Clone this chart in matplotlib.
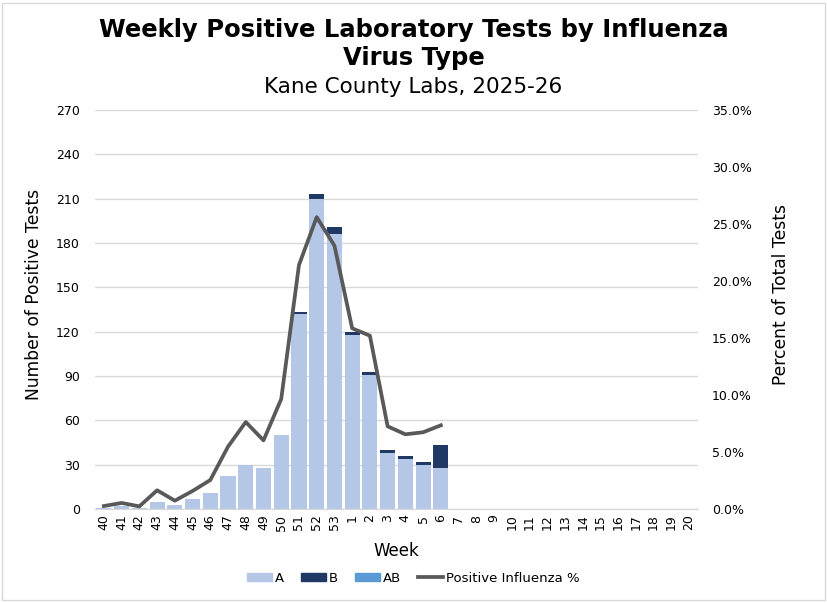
import matplotlib
matplotlib.use("Agg")
import matplotlib.pyplot as plt
import numpy as np
from matplotlib.ticker import FuncFormatter, MultipleLocator
from matplotlib.patches import Rectangle, Patch
from matplotlib.lines import Line2D

weeks = ["40", "41", "42", "43", "44", "45", "46", "47", "48", "49", "50", "51", "52", "53",
         "1", "2", "3", "4", "5", "6", "7", "8", "9", "10", "11", "12", "13", "14", "15",
         "16", "17", "18", "19", "20"]
flu_a = [1, 2, 1, 5, 3, 7, 11, 22, 30, 28, 50, 132, 210, 186, 118, 91, 38, 34, 30, 28]
flu_b = [0, 0, 0, 0, 0, 0, 0, 0, 0, 0, 0, 1, 3, 5, 2, 2, 2, 2, 2, 15]
flu_ab = [0, 0, 0, 0, 0, 0, 0, 0, 0, 0, 0, 0, 0, 0, 0, 0, 0, 0, 0, 0]
pct_pos = [0.26, 0.53, 0.23, 1.64, 0.73, 1.58, 2.54, 5.47, 7.63, 6.02, 9.65, 21.4, 25.6, 23.1,
           15.85, 15.2, 7.25, 6.55, 6.73, 7.34]

C_A = "#B4C7E7"
C_B = "#203864"
C_AB = "#5B9BD5"
C_LINE = "#595959"
GRID = "#D9D9D9"
TXT = "#000000"

plt.rcParams['font.family'] = ['DejaVu Sans']

fig = plt.figure(figsize=(8.27, 6.03), dpi=100)
ax = fig.add_axes([0.1149, 0.1559, 0.7291, 0.6617])
ax2 = ax.twinx()

n = len(flu_a)
x = np.arange(n)
a = np.array(flu_a, dtype=float)
b = np.array(flu_b, dtype=float)
ab = np.array(flu_ab, dtype=float)
w = 0.85
ax.bar(x, a, width=w, color=C_A, zorder=2)
ax.bar(x, b, width=w, bottom=a, color=C_B, zorder=2)
ax.bar(x, ab, width=w, bottom=a + b, color=C_AB, zorder=2)

ax2.plot(x, np.array(pct_pos) / 100.0, color=C_LINE, lw=2.7, zorder=3)

ax.set_xlim(-0.5, len(weeks) - 0.5)
ax.set_xticks(np.arange(len(weeks)))
ax.set_xticklabels(weeks, rotation=90, fontsize=9, color=TXT)
ax.set_ylim(0, 270)
ax.yaxis.set_major_locator(MultipleLocator(30))
ax2.set_ylim(0, 0.35)
ax2.yaxis.set_major_locator(MultipleLocator(0.05))
ax2.yaxis.set_major_formatter(FuncFormatter(lambda v, p: f"{v*100:.1f}%"))

ax.grid(axis='y', color=GRID, lw=1, zorder=0)
ax.set_axisbelow(True)
for a_ in (ax, ax2):
    for s in ("left", "right", "top"):
        a_.spines[s].set_visible(False)
    a_.spines["bottom"].set_color(GRID)
    a_.tick_params(axis='both', length=0, labelsize=9, colors=TXT)
ax.tick_params(axis='y', pad=11)
ax2.tick_params(axis='y', pad=10)
ax.tick_params(axis='x', pad=4)

ax.set_ylabel("Number of Positive Tests", fontsize=12.3, color=TXT)
ax2.set_ylabel("Percent of Total Tests", fontsize=12.3, color=TXT)
ax.yaxis.set_label_coords(-0.086, 0.537)
ax2.yaxis.set_label_coords(1.122, 0.537)
ax.set_xlabel("Week", fontsize=12, color=TXT, labelpad=8)
ax2.set_zorder(ax.get_zorder() + 1)
ax2.patch.set_visible(False)

fig.text(0.5, 0.950, "Weekly Positive Laboratory Tests by Influenza", ha='center', va='center',
         fontsize=17.5, fontweight='bold', color=TXT)
fig.text(0.5, 0.904, "Virus Type", ha='center', va='center',
         fontsize=17.5, fontweight='bold', color=TXT)
fig.text(0.5, 0.856, "Kane County Labs, 2025-26", ha='center', va='center',
         fontsize=15.5, color=TXT)

handles = [Patch(color=C_A, label="A"), Patch(color=C_B, label="B"), Patch(color=C_AB, label="AB"),
           Line2D([0], [0], color=C_LINE, lw=2.7, label="Positive Influenza %")]
fig.legend(handles=handles, loc='center', bbox_to_anchor=(0.5, 0.041), ncol=4, frameon=False,
           fontsize=9.5, handlelength=1.9, handleheight=0.6, handletextpad=0.2, columnspacing=1.3)

fig.patches.append(Rectangle((0.003, 0.005), 0.994, 0.99, transform=fig.transFigure,
                             fill=False, edgecolor=GRID, lw=1))

fig.savefig("out.png", dpi=100, facecolor="white")
